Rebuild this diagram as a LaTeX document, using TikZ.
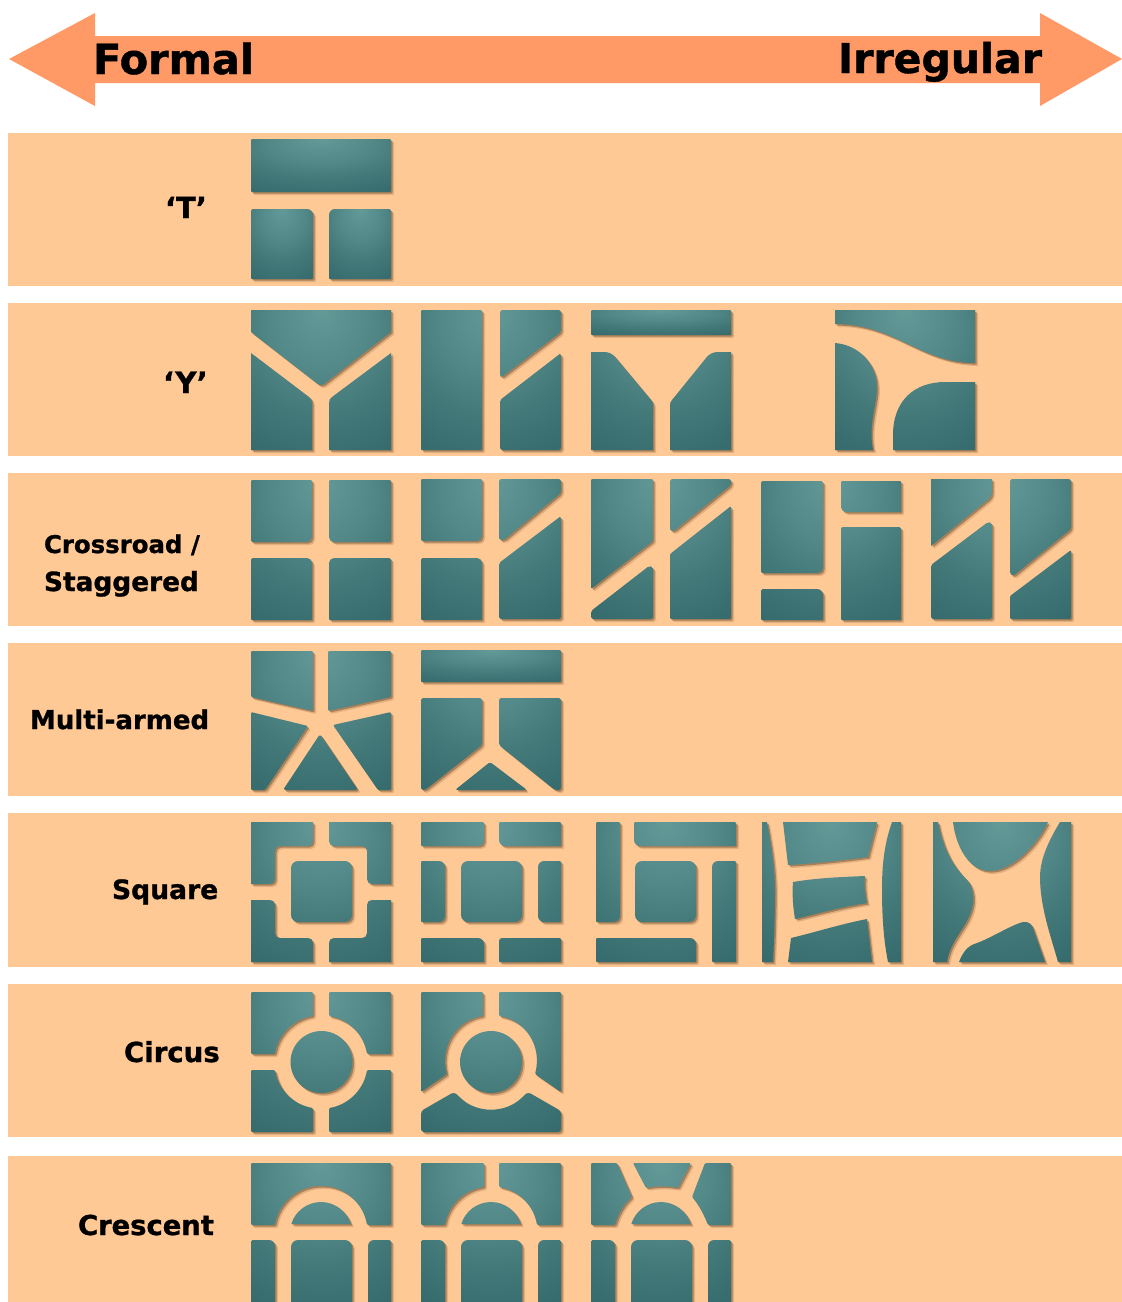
\documentclass[tikz,border=0pt]{standalone}
\usepackage{fontspec}
\setmainfont{DejaVu Sans}[BoldFeatures={FakeBold=1.0}]
\definecolor{bandcol}{HTML}{FFC995}
\definecolor{arrowcol}{HTML}{FF9966}
\definecolor{tA}{HTML}{639997}
\definecolor{tB}{HTML}{528888}
\definecolor{tC}{HTML}{44797A}
\definecolor{tD}{HTML}{386E6F}
\definecolor{tE}{HTML}{2E6465}
\definecolor{shadecol}{HTML}{6F5030}
\pgfdeclareradialshading{tealrad}{\pgfpoint{0bp}{25bp}}{color(0bp)=(tA);color(18bp)=(tB);color(30bp)=(tC);color(42bp)=(tD);color(55bp)=(tE);color(100bp)=(tE)}
% rounded rectangle: x1,y1,x2,y2, radii tl,tr,br,bl
\newcommand\rr[8]{[sharp corners] ({#1+#5},#2) -- ({#3-#6},#2) .. controls ({#3-0.45*#6},#2) and (#3,{#2+0.45*#6}) .. (#3,{#2+#6}) -- (#3,{#4-#7}) .. controls (#3,{#4-0.45*#7}) and ({#3-0.45*#7},#4) .. ({#3-#7},#4) -- ({#1+#8},#4) .. controls ({#1+0.45*#8},#4) and (#1,{#4-0.45*#8}) .. (#1,{#4-#8}) -- (#1,{#2+#5}) .. controls (#1,{#2+0.45*#5}) and ({#1+0.45*#5},#2) .. ({#1+#5},#2) -- cycle }
% L-shaped corner block of the square tile, mirrored about the tile centre
\newcommand\lx[2]{{70+#1*(#2-70)}}
\newcommand\lshape[2]{[sharp corners] (\lx{#1}{0},\lx{#2}{0}) -- (\lx{#1}{62},\lx{#2}{0}) -- (\lx{#1}{62},\lx{#2}{19}) .. controls (\lx{#1}{62},\lx{#2}{22}) and (\lx{#1}{60},\lx{#2}{24}) .. (\lx{#1}{57},\lx{#2}{24}) -- (\lx{#1}{29},\lx{#2}{24}) .. controls (\lx{#1}{26},\lx{#2}{24}) and (\lx{#1}{24},\lx{#2}{26}) .. (\lx{#1}{24},\lx{#2}{29}) -- (\lx{#1}{24},\lx{#2}{57}) .. controls (\lx{#1}{24},\lx{#2}{60}) and (\lx{#1}{22},\lx{#2}{62}) .. (\lx{#1}{19},\lx{#2}{62}) -- (\lx{#1}{0},\lx{#2}{62}) -- cycle }
\newcommand\patb[5]{\begin{scope}[shift={(#1,#2)}]
\fill[shadecol,opacity=.2,shift={(3,3)}] #5;
\fill[shadecol,opacity=.5,shift={(1.6,1.6)}] #5;
\begin{scope}\clip #5;\shade[shading=tealrad] (#3) rectangle (#4);\end{scope}
\end{scope}}
\newcommand\pat[3]{\patb{#1}{#2}{0,0}{140,140}{#3}}
\newcommand\rc{[rounded corners=1.2pt]}
\newcommand\rd{[rounded corners=1.8pt]}
\newcommand\dome{[sharp corners] (40.3,61) .. controls (44.2,48) and (56.4,39) .. (70,39) .. controls (83.6,39) and (95.8,48) .. (99.7,61) -- cycle }
\newcommand\lowers{\rr{0}{77}{24}{140}{1.5}{6}{1}{1} \rr{40}{77}{101}{140}{7}{7}{1}{1} \rr{117}{77}{140}{140}{6}{1.5}{1}{1} }
\tikzset{lab/.style={anchor=base west,inner sep=0pt,outer sep=0pt,text=black}}
\newcommand\fs[1]{\fontsize{#1}{#1}\selectfont\bfseries}
\begin{document}
\begin{tikzpicture}[x=1pt,y=-1pt]
\useasboundingbox (0,0) rectangle (1122,1302);
\fill[white] (0,0) rectangle (1122,1302);
% arrow
\fill[arrowcol] (9,59) -- (95,13) -- (95,36) -- (1040,36) -- (1040,13) -- (1122,59) -- (1040,106) -- (1040,83) -- (95,83) -- (95,106) -- cycle;
\node[lab,font=\fs{41.5}] (formal) at (93,74) {Formal};
\node[lab,font=\fs{41}] (irregular) at (838,73) {Irregular};
% bands
\foreach \a/\b in {133/286,303/456,473/626,643/796,813/967,984/1137,1156/1302}
  \fill[bandcol] (8,\a) rectangle (1122,\b);
% labels
\node[lab,font=\fs{29}] (lt) at (165,218) {‘T’};
\node[lab,font=\fs{29.5}] (ly) at (163,393) {‘Y’};
\node[lab,font=\fs{24.4}] (lc) at (44,553) {Crossroad /};
\node[lab,font=\fs{26.4}] (ls) at (44,591) {Staggered};
\node[lab,font=\fs{26}] (lm) at (30,729) {Multi-armed};
\node[lab,font=\fs{26.6}] (lq) at (112,899) {Square};
\node[lab,font=\fs{27.6}] (lo) at (124,1062) {Circus};
\node[lab,font=\fs{27.4}] (le) at (78,1235) {Crescent};
% T
\patb{251}{139}{0,0}{140,53}{\rr{0}{0}{140}{53}{1}{1}{1}{1}}
\patb{251}{139}{0,70}{62,140}{\rr{0}{70}{62}{140}{1.5}{6}{1}{1}}
\patb{251}{139}{78,70}{140,140}{\rr{78}{70}{140}{140}{6}{1.5}{1}{1}}
% Y row
\pat{251}{310}{[sharp corners] (0,0) -- (140,0) -- (140,22) -- (73,74) .. controls (71,75.5) and (69,75.5) .. (67,74) -- (0,22) -- cycle (0,43) -- (58,87) .. controls (60,88.5) and (61,90) .. (61,93) -- (61,140) -- (0,140) -- cycle (140,43) -- (81,87) .. controls (79,88.5) and (78,90) .. (78,93) -- (78,140) -- (140,140) -- cycle}
\pat{421}{310}{\rr{0}{0}{61}{140}{1}{1}{1}{1} \rd (79,0) -- (140,0) -- (140,22) -- (81,67) -- (79,67) -- cycle \rd (140,43) -- (79,90) -- (79,140) -- (140,140) -- cycle}
\patb{591}{310}{0,0}{140,25}{\rr{0}{0}{140}{25}{1}{1}{1}{1}}
\pat{591}{310}{[sharp corners] (0,42) -- (13,42) .. controls (18,42) and (22,44) .. (25,48) -- (60,90) .. controls (61.5,92) and (62,93) .. (62,95) -- (62,140) -- (0,140) -- cycle (140,42) -- (127,42) .. controls (122,42) and (118,44) .. (115,48) -- (81,90) .. controls (79.5,92) and (79,93) .. (79,95) -- (79,140) -- (140,140) -- cycle}
\pat{835}{310}{[sharp corners] (0,0) -- (140,0) -- (140,53) .. controls (85,53) and (60,14) .. (0,14) -- cycle (0,33) .. controls (25,35) and (42,55) .. (42,78) .. controls (42,95) and (33,115) .. (38,140) -- (0,140) -- cycle (140,72) -- (110,72) .. controls (80,72) and (58,90) .. (58,125) -- (58,140) -- (140,140) -- cycle}
% Crossroad row
\pat{251}{480}{\rr{0}{0}{61}{62}{1}{1}{5}{1.5} \rr{78}{0}{140}{62}{1}{1}{1.5}{5} \rr{0}{78}{61}{140}{1.5}{5}{1}{1} \rr{78}{78}{140}{140}{5}{1.5}{1}{1}}
\pat{421}{479}{\rr{0}{0}{61}{62}{1}{1}{5}{1.5} \rd (78,0) -- (140,0) -- (140,14) -- (83,61) -- (78,61) -- cycle \rd (140,37) -- (78,84) -- (78,140) -- (140,140) -- cycle \rr{0}{79}{61}{141}{1.5}{5}{1}{1}}
\pat{591}{479}{\rc (0,0) -- (62,0) -- (62,62) -- (0,110) -- cycle \rd (0,132) -- (58,87) -- (62,88) -- (62,140) -- (0,140) -- cycle \rd (79,0) -- (140,0) -- (140,6) -- (83,52) -- (79,52) -- cycle \rc (140,27) -- (79,75) -- (79,140) -- (140,140) -- cycle}
\pat{761}{480}{\rr{0}{1}{62}{93}{1.5}{1.5}{5}{1.5} \rr{0}{109}{62}{140}{1.5}{6}{1}{1} \rr{80}{1}{140}{32}{1}{1}{1}{5} \rr{80}{47}{140}{140}{2}{1.5}{1}{1}}
\pat{931}{479}{[sharp corners] (0,0) -- (61,0) -- (61,13) .. controls (61,16) and (60,18) .. (58,20) -- (0,67) -- cycle \rd (0,86) -- (57,43) -- (61,44) -- (61,140) -- (0,140) -- cycle \rd (79,0) -- (140,0) -- (140,50) -- (82,97) -- (79,95) -- cycle \rc (140,71) -- (79,117) -- (79,140) -- (140,140) -- cycle}
% Multi-armed row
\pat{251}{650}{\rc (0,1) -- (62,1) -- (62,61) -- (0,47) -- cycle \rc (77,1) -- (140,1) -- (140,47) -- (77,61) -- cycle \rc (0,62) -- (57,76) -- (14,140) -- (0,140) -- cycle \rc (140,62) -- (82,75) -- (127,140) -- (140,140) -- cycle \rd (69,84) -- (107,140) -- (32,140) -- cycle}
\patb{421}{650}{0,0}{140,32}{\rr{0}{0}{140}{32}{1}{1}{1}{1}}
\pat{421}{650}{\rd (0,48) -- (61,48) -- (61,95) -- (4,140) -- (0,140) -- cycle \rd (140,48) -- (78,48) -- (78,95) -- (134,140) -- (140,140) -- cycle \rd (69,112) -- (106,140) -- (34,140) -- cycle}
% Square row
\pat{251}{822}{\lshape{1}{1} \lshape{-1}{1} \lshape{1}{-1} \lshape{-1}{-1} \rr{40}{39}{101}{100}{7}{7}{7}{7}}
\pat{421}{822}{\rr{0}{0}{63}{24}{1}{1}{5}{1} \rr{78}{0}{140}{24}{1}{1}{1}{6} \rr{0}{39}{24}{100}{1}{6}{6}{1} \rr{40}{39}{101}{100}{7}{7}{7}{7} \rr{117}{39}{140}{100}{6}{1}{1}{6} \rr{0}{116}{63}{140}{1}{6}{1}{1} \rr{78}{116}{140}{140}{3}{1}{1}{1}}
\pat{596}{822}{\rr{0}{0}{24}{100}{1}{1}{6}{1} \rr{38}{0}{140}{24}{1}{1}{1}{6} \rr{39}{39}{100}{100}{7}{7}{7}{7} \rr{116}{39}{140}{140}{6}{1}{1}{1} \rr{0}{116}{100}{140}{1}{6}{1}{1}}
\pat{761}{822}{[sharp corners] (1,0) -- (6,0) .. controls (10,22) and (14,45) .. (14,70) .. controls (14,95) and (13,120) .. (12,140) -- (1,140) -- cycle
 (22,0) -- (116,0) -- (107,35) .. controls (85,38) and (50,42) .. (27,43) -- cycle
 (32,60) .. controls (55,56) and (80,55) .. (104,54) .. controls (103,62) and (104,72) .. (106,81) .. controls (80,85) and (55,92) .. (34,97) .. controls (32,85) and (31,72) .. (32,60) -- cycle
 (30,116) .. controls (55,110) and (80,102) .. (106,97) -- (111,140) -- (27,140) -- cycle
 (131,0) -- (140,0) -- (140,140) -- (127,140) .. controls (122,115) and (121,90) .. (121,66) .. controls (121,40) and (124,20) .. (131,0) -- cycle}
\pat{931}{822}{[sharp corners] (2,0) -- (7,0) .. controls (12,25) and (20,42) .. (36,58) .. controls (42,64) and (43,74) .. (42,82) .. controls (38,105) and (20,115) .. (16,140) -- (2,140) -- cycle
 (22,0) -- (117,0) .. controls (105,25) and (80,49) .. (59,49) .. controls (38,49) and (25,25) .. (22,0) -- cycle
 (129,0) -- (140,0) -- (140,140) -- (127,140) .. controls (120,115) and (109,85) .. (109,55) .. controls (109,35) and (120,15) .. (129,0) -- cycle
 (28,140) .. controls (32,130) and (36,124) .. (46,121) .. controls (60,116) and (80,103) .. (92,100) .. controls (98,99) and (101,103) .. (102,106) -- (114,140) -- cycle}
% Circus row
\pat{251}{992}{\rc (0,0) -- (62,0) -- (62,24) .. controls (42.4,27.4) and (27.4,42.4) .. (24,62) -- (0,62) -- cycle
 \rc (140,0) -- (78,0) -- (78,24) .. controls (97.6,27.4) and (112.6,42.4) .. (116,62) -- (140,62) -- cycle
 \rc (0,140) -- (62,140) -- (62,116) .. controls (42.4,112.6) and (27.4,97.6) .. (24,78) -- (0,78) -- cycle
 \rc (140,140) -- (78,140) -- (78,116) .. controls (97.6,112.6) and (112.6,97.6) .. (116,78) -- (140,78) -- cycle
 [sharp corners] (70.5,70) circle [radius=31pt]}
\pat{421}{992}{\rc (0,0) -- (62,0) -- (62,24) .. controls (35.1,28.3) and (18.7,54.8) .. (26,82) -- (0,100) -- cycle
 \rc (140,0) -- (78,0) -- (78,24) .. controls (104.9,28.3) and (121.3,54.8) .. (114,82) -- (140,100) -- cycle
 [rounded corners=3pt] (0,119) -- (33,100) -- (37,103.5) .. controls (55.4,121.7) and (84.6,121.7) .. (103,103.5) -- (107,100) -- (140,119) -- (140,140) -- (0,140) -- cycle
 [sharp corners] (70,70) circle [radius=31pt]}
% Crescent row
\pat{251}{1163}{\rc (0,0) -- (140,0) -- (140,62) -- (116,62) .. controls (112.1,39.5) and (92.8,23) .. (70,23) .. controls (47.2,23) and (27.9,39.5) .. (24,62) -- (0,62) -- cycle \dome \lowers}
\pat{421}{1163}{\rc (0,0) -- (63,0) -- (63,24) .. controls (42.4,27.4) and (27.4,42.4) .. (24,62) -- (0,62) -- cycle \rc (140,0) -- (78,0) -- (78,24) .. controls (97.6,27.4) and (112.6,42.4) .. (116,62) -- (140,62) -- cycle \dome \lowers}
\pat{591}{1163}{\rc (0,0) -- (26,0) -- (41,34) .. controls (32,42) and (27,52) .. (24,62) -- (0,62) -- cycle \rc (42,0) -- (100,0) -- (87,25) .. controls (78,23) and (64,23) .. (55,25) -- cycle \rc (140,0) -- (114,0) -- (101,34) .. controls (108,42) and (113,52) .. (117,62) -- (140,62) -- cycle \dome \lowers}
\end{tikzpicture}
\end{document}
